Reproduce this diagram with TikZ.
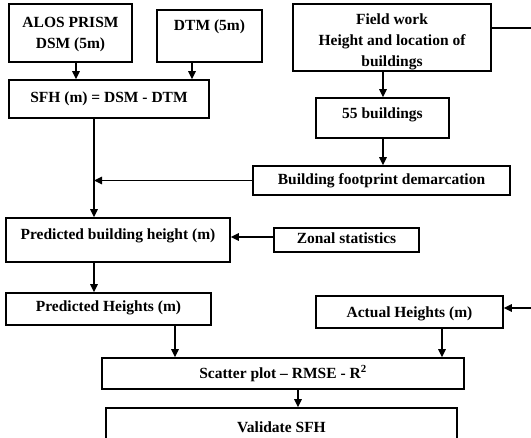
\documentclass[tikz,border=0pt]{standalone}
\usepackage{fontspec}
\setmainfont{Liberation Serif}
\usetikzlibrary{arrows.meta,calc}
\begin{document}
\begin{tikzpicture}[x=1pt,y=-1pt,
  box/.style={draw,line width=1.6pt,rectangle,inner sep=0pt,font=\bfseries\fontsize{15.5}{21}\selectfont,align=center},
  lbl/.style={inner sep=0pt,font=\bfseries\fontsize{15.5}{21}\selectfont,align=center},
  arr/.style={line width=1.4pt,-{Triangle[length=8pt,width=7.5pt]}},
  ln/.style={line width=1.4pt}]
\useasboundingbox (0,0) rectangle (531,438);
\node[box,minimum width=123pt,minimum height=58pt] (alos) at (70.5,33) {};
\node[lbl] (alosl) at (70.5,35) {ALOS PRISM\\DSM (5m)};
\node[box,minimum width=105pt,minimum height=52pt] (dtm) at (209.5,36) {};
\node[lbl] (dtml) at (209.5,27) {DTM (5m)};
\node[box,minimum width=200pt,minimum height=38pt] (sfh) at (109,99) {SFH (m) = DSM - DTM};
\node[box,minimum width=198pt,minimum height=67pt] (field) at (392,37.5) {};
\node[lbl] (fieldl) at (392,42) {Field work\\Height and location of\\buildings};
\node[box,minimum width=133pt,minimum height=40pt] (b55) at (382.5,118) {};
\node[lbl] (b55l) at (382.5,115) {55 buildings};
\node[box,minimum width=257pt,minimum height=29pt] (foot) at (381.5,180.5) {Building footprint demarcation};
\node[box,minimum width=224pt,minimum height=44pt] (pbh) at (118,240) {};
\node[lbl] (pbhl) at (118,236) {Predicted building height (m)};
\node[box,minimum width=145pt,minimum height=24pt] (zonal) at (346.5,240) {};
\node[lbl] (zonall) at (346.5,238) {Zonal statistics};
\node[box,minimum width=205pt,minimum height=32pt] (ph) at (108.5,309) {};
\node[lbl] (phl) at (108.5,308) {Predicted Heights (m)};
\node[box,minimum width=187pt,minimum height=32pt] (ah) at (409.5,312) {};
\node[lbl] (ahl) at (409.5,314) {Actual Heights (m)};
\node[box,minimum width=362pt,minimum height=31pt] (sc) at (283,373.5) {Scatter plot -- RMSE - R\textsuperscript{2}};
\node[box,minimum width=351pt,minimum height=38pt] (val) at (281.5,427) {Validate SFH};
% connectors
\draw[arr] ([xshift=5.5pt]alos.south) -- ([xshift=5.5pt]alos.south |- sfh.north);
\draw[arr] ([xshift=-17.5pt]dtm.south) -- ([xshift=-17.5pt]dtm.south |- sfh.north);
\coordinate (j1) at ([xshift=-15pt]sfh.south);
\draw[arr] (j1) -- (j1 |- pbh.north);
\draw[arr] (foot.west) -- (j1 |- foot.west);
\draw[arr] ([xshift=-9pt]field.south) -- ([xshift=-9pt]field.south |- b55.north);
\draw[arr] ([xshift=0.5pt]b55.south) -- ([xshift=0.5pt]b55.south |- foot.north);
\draw[arr] ([yshift=3pt]zonal.west) -- ([yshift=3pt]zonal.west -| pbh.east);
\draw[arr] (j1 |- pbh.south) -- (j1 |- ph.north);
\draw[arr] ([xshift=66.5pt]ph.south) -- ([xshift=66.5pt]ph.south |- sc.north);
\draw[arr] ([xshift=32.5pt]ah.south) -- ([xshift=32.5pt]ah.south |- sc.north);
\draw[arr] ([xshift=15pt]sc.south) -- ([xshift=15pt]sc.south |- val.north);
\coordinate (r1) at (545,28);
\coordinate (r2) at (545,308);
\draw[ln] ([yshift=9.5pt]field.east) -- (r1);
\draw[arr] (r1) -- (r2) -- (r2 -| ah.east);
\end{tikzpicture}
\end{document}
